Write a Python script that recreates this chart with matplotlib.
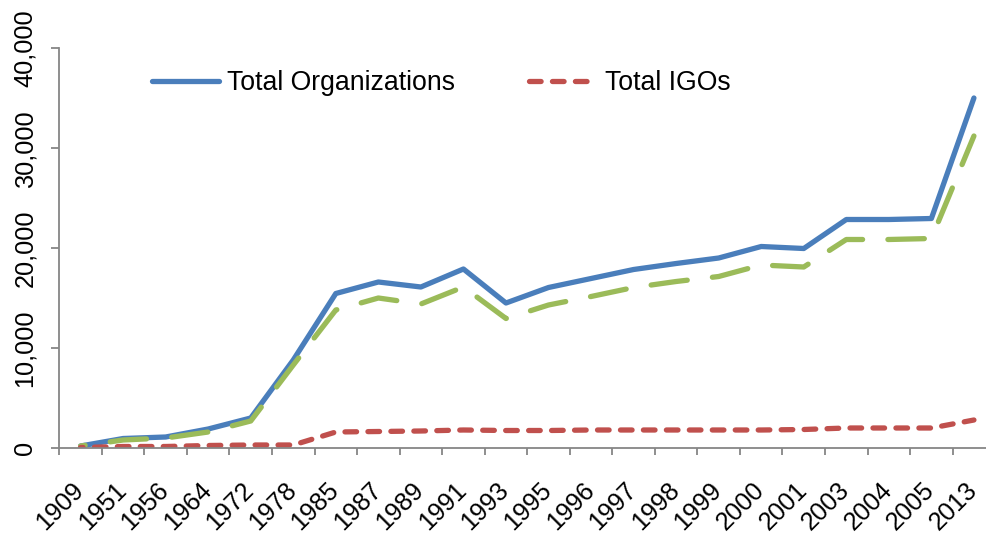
import numpy as np
import matplotlib
matplotlib.use("Agg")
import matplotlib.pyplot as plt
from matplotlib.ticker import FuncFormatter
from matplotlib.transforms import ScaledTranslation

years = ["1909", "1951", "1956", "1964", "1972", "1978", "1985", "1987", "1989", "1991",
         "1993", "1995", "1996", "1997", "1998", "1999", "2000", "2001", "2003", "2004",
         "2005", "2013"]
total_orgs = [200, 950, 1100, 1900, 3000, 8800, 15450, 16600, 16100, 17900,
              14500, 16050, 16950, 17850, 18450, 19000, 20150, 19950, 22850, 22850,
              22950, 35000]
total_ingos = [200, 800, 1000, 1600, 2700, 8300, 13800, 15000, 14400, 16100,
               12950, 14300, 15150, 16050, 16650, 17150, 18300, 18100, 20850, 20850,
               20950, 31200]
total_igos = [50, 150, 150, 250, 300, 300, 1600, 1650, 1700, 1800,
              1750, 1750, 1800, 1800, 1800, 1800, 1800, 1850, 2000, 2000,
              2000, 2800]
yticks = [0, 10000, 20000, 30000, 40000]

plt.rcParams['font.family'] = ['Liberation Sans', 'DejaVu Sans']

W, H = 987, 535
fig = plt.figure(figsize=(W / 100, H / 100), dpi=100)
ax = fig.add_axes([59.3 / W, 87 / H, (995.2 - 59.3) / W, 400 / H])

BLUE = "#4A7EBB"
RED = "#C0504D"
GREEN = "#9BBB59"
GRAY = "#868686"
LW = 3.8

x = np.arange(len(years))
ax.set_xlim(-0.5, len(years) - 0.5)
ax.set_ylim(0, 40000)


def end_offset(yvals, on, off, end_frac=0.85):
    # dash offset (in linewidth units) so that the pattern ends inside a dash
    pts = ax.transData.transform(np.column_stack([x, yvals])) * 72.0 / fig.dpi
    L = np.sum(np.hypot(np.diff(pts[:, 0]), np.diff(pts[:, 1]))) / LW
    P = on + off
    return (on * end_frac - L) % P


l_org, = ax.plot(x, total_orgs, color=BLUE, lw=LW, solid_capstyle='round',
                 solid_joinstyle='round', label="Total Organizations")
g_on, g_off = 6.9, 4.8
l_ingo, = ax.plot(x, total_ingos, color=GREEN, lw=LW,
                  ls=(end_offset(total_ingos, g_on, g_off), (g_on, g_off)),
                  dash_capstyle='round', dash_joinstyle='round', label="_nolegend_")
r_on, r_off = 2.2, 2.15
l_igo, = ax.plot(x, total_igos, color=RED, lw=LW,
                 ls=(end_offset(total_igos, r_on, r_off), (r_on, r_off)),
                 dash_capstyle='round', dash_joinstyle='round', label="Total IGOs")
# legend handle for IGOs starts with a dash
h_igo, = ax.plot([], [], color=RED, lw=LW, ls=(0, (r_on, r_off)),
                 dash_capstyle='round', label="Total IGOs")

ax.set_xticks(x, labels=years)
ax.set_xticks(np.arange(-0.5, len(years), 1), minor=True)
ax.tick_params(axis='x', which='major', length=0, pad=41.8, labelsize=18.2)
ax.tick_params(axis='x', which='minor', length=5.2, width=1.3, color=GRAY, direction='out')
shift = ScaledTranslation(-20.5 / 100, 0, fig.dpi_scale_trans)
for lab in ax.get_xticklabels():
    lab.set_rotation(45)
    lab.set_rotation_mode('anchor')
    lab.set_ha('center')
    lab.set_va('center')
    lab.set_transform(lab.get_transform() + shift)

ax.set_yticks(yticks)
ax.yaxis.set_major_formatter(FuncFormatter(lambda v, p: f"{int(v):,}"))
ax.tick_params(axis='y', length=5.5, width=1.3, color=GRAY, direction='out', pad=10.5,
               labelsize=18.2)
for lab in ax.get_yticklabels():
    lab.set_rotation(90)
    lab.set_va('center')
    lab.set_ha('right')

for s in ['top', 'right']:
    ax.spines[s].set_visible(False)
for s in ['left', 'bottom']:
    ax.spines[s].set_color(GRAY)
    ax.spines[s].set_linewidth(1.3)

ycen = 1 - 83.3 / H
leg1 = ax.legend(handles=[l_org], loc='center left', bbox_to_anchor=(152 / W, ycen),
                 bbox_transform=fig.transFigure, frameon=False, fontsize=19.2,
                 borderpad=0, borderaxespad=0, handlelength=2.5, handletextpad=0.33)
ax.add_artist(leg1)
leg2 = ax.legend(handles=[h_igo], loc='center left', bbox_to_anchor=(529.3 / W, ycen),
                 bbox_transform=fig.transFigure, frameon=False, fontsize=19.2,
                 borderpad=0, borderaxespad=0, handlelength=2.5, handletextpad=0.33)

fig.savefig("out.png", dpi=100)
